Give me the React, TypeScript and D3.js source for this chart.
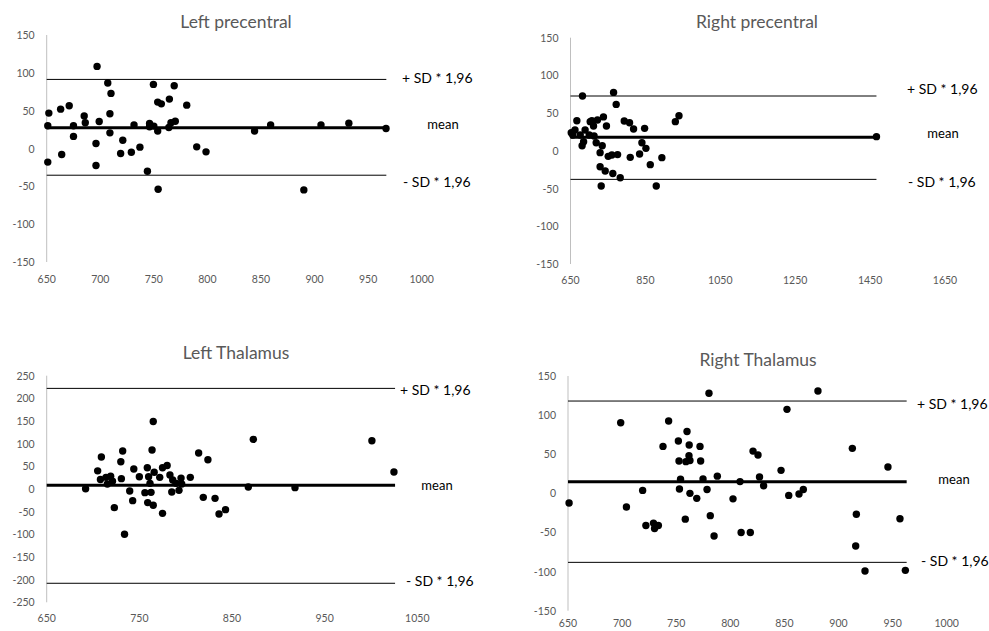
import React, { useEffect, useRef } from "react";
import * as d3 from "d3";

// Left precentral: mean of two measures (x) vs difference (y)
const lpX = [651, 652, 651, 663, 664, 671, 675, 675, 685, 686, 696, 696, 697, 699, 707, 709, 710, 709, 719, 721, 729, 731.5, 737, 744, 746, 746, 749.6, 750, 753.6, 753.6, 754, 757, 764.5, 764, 766, 769, 770, 780.7, 790, 798.7, 844, 859, 890, 906, 932, 966.7];
const lpY = [30, 46.8, -18, 52, -8, 56.5, 30, 16, 43, 34, 6.6, -22.5, 108.5, 35.7, 86.5, 46, 72.8, 20.7, -6.6, 11, -4.9, 31, 1.8, -30, 33, 28.7, 84.7, 29.6, 61.3, 23, -53.8, 59, 65.3, 27.8, 34, 83, 36, 57.3, 2.2, -4.4, 23, 31, -54.7, 31, 33.5, 26.5];
const lpLines = [91.3, 27.3, -35.3]; // +SD, mean, -SD

// Right precentral
const rpX = [652, 662, 656, 667, 682, 676, 681, 685, 689, 700, 702.6, 707, 711.5, 713, 718.6, 722, 729, 734.7, 729, 738, 732, 742.7, 746, 750.7, 760.5, 763, 765, 772, 775.7, 782.8, 793.5, 807.7, 809.5, 818.4, 834.5, 840.7, 847.9, 851.4, 863, 879, 894, 930, 939.7, 1467];
const rpY = [24, 27.6, 21, 40, 72.7, 21, 6.8, 12, 27.6, 21, 38.7, 40, 33, 19.7, 10.8, 40.9, -2.4, 6.8, -21, 45, -46.6, -26.7, 33, -7.3, -5.5, -30, 77.5, 61.6, -5, -35.6, 39.5, 37.3, -8.6, 29, -4.2, 10.8, 29.8, 3.3, -18.3, -46.6, -9, 38.7, 46.6, 18.8];
const rpLines = [72.7, 17.9, -37.8];

// Left Thalamus
const ltX = [692, 705, 708, 709, 714, 715.5, 719, 721, 723, 730, 730.6, 732, 734, 739.6, 742.8, 744, 750, 756, 758.6, 759, 760, 761.5, 762.6, 763.7, 765, 765, 766, 772, 775, 775, 780, 783, 785, 786, 789.6, 792.8, 795, 795.7, 805, 814, 819, 824, 831.7, 836, 843, 867.6, 873, 918, 1001, 1024.8];
const ltY = [0.7, 40, 21, 70.6, 25.7, 11, 28, 17, -41, 60, 22.8, 83.8, -100, -4.4, -25.7, 44, 27, -8, 47, -30, 27, 12.5, -7.4, 86, 149, -36, 36.8, 25.7, -53.7, 47, 52, 31, -6.6, 20, 12.5, -3, 24, 11, 25.7, 79.4, -18.4, 64.7, -20.6, -55, -45.6, 4.4, 109.6, 3, 106.6, 37.5];
const ltLines = [222, 8, -208];

// Right Thalamus
const rtX = [651, 698.7, 704, 719, 722, 729, 730, 733.5, 737.8, 743, 752, 752.6, 753, 754, 758.4, 759, 760, 761.8, 762, 762.7, 762.7, 769, 772, 772.6, 774.8, 778.5, 780.3, 781.5, 785, 788, 802.5, 809, 810, 818.5, 821, 825.6, 827, 830.8, 846.9, 852.4, 854, 863.5, 867.5, 881, 912.8, 916.5, 915.9, 924.5, 945.7, 956.8, 961.8];
const rtY = [-12.4, 90.3, -17.5, 3.8, -41, -38, -45, -41, 60, 92.5, 67, 41.3, 5.5, 18, -33, 40.5, 79, 48, 61.8, 42, 0, -6.4, 60, 41.3, 18.3, 5, 128, -28.5, -54.5, 22, -7, 15, -50, -50, 54, 49, 21, 9.8, 29.4, 107.4, -2.6, -0.9, 5, 130.8, 57.5, -26.8, -67.3, -99.3, 33.7, -32.4, -98.4];
const rtLines = [118, 14.9, -88.2];

const lineLabels = ["+ SD * 1,96", "mean", "- SD * 1,96"];

const panels = [
  { title: "Left precentral", xs: lpX, ys: lpY, lines: lpLines, xDom: [650, 1000], xStep: 50, yDom: [-150, 150],
    xr: [46.7, 421.7], yr: [262, 35], lineEnd: 967, titleX: 236, titleY: 21, labX: [402, 443, 403], labY: [77, 124, 181], xLabY: 279 },
  { title: "Right precentral", xs: rpX, ys: rpY, lines: rpLines, xDom: [650, 1650], xStep: 200, yDom: [-150, 150],
    xr: [570.5, 945], yr: [264, 37.7], lineEnd: 1467, titleX: 757, titleY: 21, labX: [907, 943, 908], labY: [88, 133, 181], xLabY: 280 },
  { title: "Left Thalamus", xs: ltX, ys: ltY, lines: ltLines, xDom: [650, 1050], xStep: 100, yDom: [-250, 250],
    xr: [46.7, 417.3], yr: [602.3, 375.7], lineEnd: 1026, titleX: 236, titleY: 352, labX: [400, 437, 406], labY: [389, 485, 580], xLabY: 618 },
  { title: "Right Thalamus", xs: rtX, ys: rtY, lines: rtLines, xDom: [650, 1000], xStep: 50, yDom: [-150, 150],
    xr: [568, 946.7], yr: [610.7, 376], lineEnd: 963, titleX: 758, titleY: 359, labX: [917, 954, 921], labY: [403, 479, 560], xLabY: 623 },
];

export default function App() {
  const ref = useRef<SVGSVGElement>(null);

  useEffect(() => {
    const svg = d3.select(ref.current);
    svg.selectAll("*").remove();

    panels.forEach((p) => {
      const g = svg.append("g");
      const x = d3.scaleLinear().domain(p.xDom).range(p.xr);
      const y = d3.scaleLinear().domain(p.yDom).range(p.yr);

      // title
      g.append("text")
        .attr("x", p.titleX).attr("y", p.titleY)
        .attr("text-anchor", "middle").attr("dominant-baseline", "central")
        .style("font-size", "17.5px").style("fill", "#595959")
        .text(p.title);

      // y axis line + tick labels
      g.append("line")
        .attr("x1", x(p.xDom[0])).attr("x2", x(p.xDom[0]))
        .attr("y1", y(p.yDom[1])).attr("y2", y(p.yDom[0]))
        .style("stroke", "#bfbfbf").style("stroke-width", 1);

      g.selectAll(".yt").data(d3.range(p.yDom[0], p.yDom[1] + 1, 50)).join("text")
        .attr("x", x(p.xDom[0]) - 12).attr("y", (d) => y(d))
        .attr("text-anchor", "end").attr("dominant-baseline", "central")
        .style("font-size", "10.5px").style("fill", "#595959")
        .text((d) => d);

      g.selectAll(".xt").data(d3.range(p.xDom[0], p.xDom[1] + 1, p.xStep)).join("text")
        .attr("x", (d) => x(d)).attr("y", p.xLabY)
        .attr("text-anchor", "middle").attr("dominant-baseline", "central")
        .style("font-size", "10.5px").style("fill", "#595959")
        .text((d) => d);

      // SD and mean lines
      p.lines.forEach((v, i) => {
        g.append("line")
          .attr("x1", x(p.xDom[0])).attr("x2", x(p.lineEnd))
          .attr("y1", y(v)).attr("y2", y(v))
          .style("stroke", "#000").style("stroke-width", i === 1 ? 3 : 1);
        g.append("text")
          .attr("x", p.labX[i]).attr("y", p.labY[i])
          .attr("text-anchor", i === 1 ? "middle" : "start").attr("dominant-baseline", "central")
          .style("font-size", i === 1 ? "13px" : "14px").style("fill", "#000")
          .text(lineLabels[i]);
      });

      // points
      g.selectAll("circle").data(p.xs).join("circle")
        .attr("cx", (d) => x(d))
        .attr("cy", (d, i) => y(p.ys[i]))
        .attr("r", 3.7)
        .style("fill", "#000");
    });
  }, []);

  return (
    <svg ref={ref} width={989} height={631}
      style={{ position: "absolute", left: 0, top: 0, background: "#fff", fontFamily: "Lato, 'Open Sans', sans-serif" }} />
  );
}
